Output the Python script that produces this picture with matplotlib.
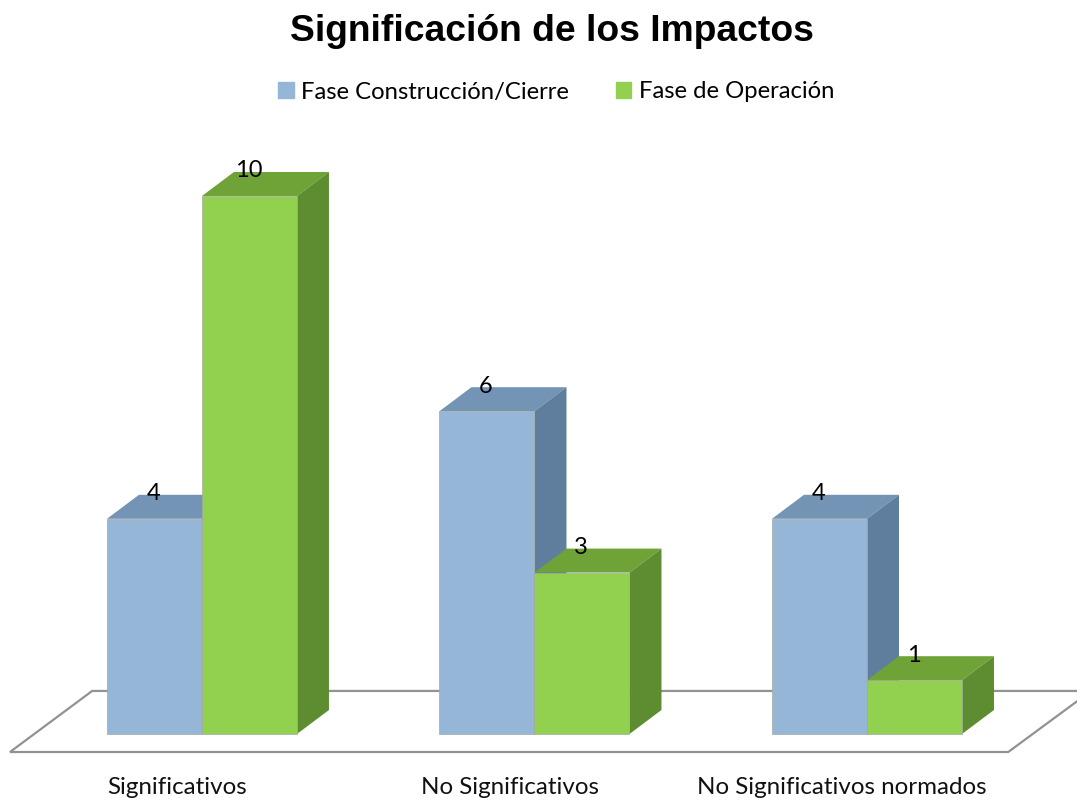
import matplotlib
matplotlib.use("Agg")
import matplotlib.pyplot as plt
from matplotlib.patches import Patch, Polygon

categories = ["Significativos", "No Significativos", "No Significativos normados"]
construccion = [4, 6, 4]
operacion = [10, 3, 1]
series_names = ["Fase Construcción/Cierre", "Fase de Operación"]

# front, top, side
blue = ("#95b6d7", "#7394b4", "#5f7d9c")
green = ("#92d050", "#6fa338", "#5d8d30")

# axes fill the whole figure, limits picked so the bars land where the original has them
fig = plt.figure(figsize=(10.77, 8), dpi=100)
ax = fig.add_axes([0, 0, 1, 1])
ax.set_xlim(-0.6075, 2.6316)
ax.set_ylim(-1.227, 13.643)
ax.axis("off")

width = 0.2857
dx = 0.0962
dy = 0.446


def bar3d(x, h, cols, z):
    # side and top go under, the front face (z + 2) stays above the other series
    ax.bar(x, h, width, align="edge", color=cols[0], edgecolor="#a3aaa3", linewidth=0.5, zorder=z + 2)
    top = [(x, h), (x + dx, h + dy), (x + width + dx, h + dy), (x + width, h)]
    side = [(x + width, 0), (x + width + dx, dy), (x + width + dx, h + dy), (x + width, h)]
    ax.add_patch(Polygon(top, closed=True, facecolor=cols[1], edgecolor="none", zorder=z))
    ax.add_patch(Polygon(side, closed=True, facecolor=cols[2], edgecolor="none", zorder=z + 0.1))


# floor, right corner runs off the picture
floor_y = [-0.335, 0.8]
floor = [(-0.5775, floor_y[0]), (-0.3303, floor_y[1]), (2.674, floor_y[1]), (2.4248, floor_y[0])]
ax.add_patch(Polygon(floor, closed=True, facecolor="white", edgecolor="#929292", linewidth=1.6, zorder=1))

for i in range(len(categories)):
    bar3d(i - width, construccion[i], blue, 2)
    bar3d(i, operacion[i], green, 3)
    ax.annotate(str(construccion[i]), (i - width / 2, construccion[i]), xytext=(-0.7, 18),
                textcoords="offset points", ha="center", va="center", fontsize=17,
                family="Lato", color="black", zorder=10)
    ax.annotate(str(operacion[i]), (i + width / 2, operacion[i]), xytext=(-0.7, 18),
                textcoords="offset points", ha="center", va="center", fontsize=17,
                family="Lato", color="black", zorder=10)
    ax.text(i - 0.075, -0.99, categories[i], ha="center", va="center", fontsize=17.4, family="Lato", color="#111111")

fig.text(0.5128, 0.961, "Significación de los Impactos", ha="center", va="center",
         fontsize=26.8, fontweight="bold", family="Liberation Sans", color="black")

handles = [Patch(color=blue[0], label=series_names[0]), Patch(color=green[0], label=series_names[1])]
ax.legend(handles=handles, loc="center", bbox_to_anchor=(0.5165, 0.885), ncol=2, frameon=False,
          prop={"family": "Lato", "size": 17.2}, handlelength=0.63, handleheight=0.63,
          handletextpad=0.3, columnspacing=2.0)

fig.savefig("out.png", dpi=100)
